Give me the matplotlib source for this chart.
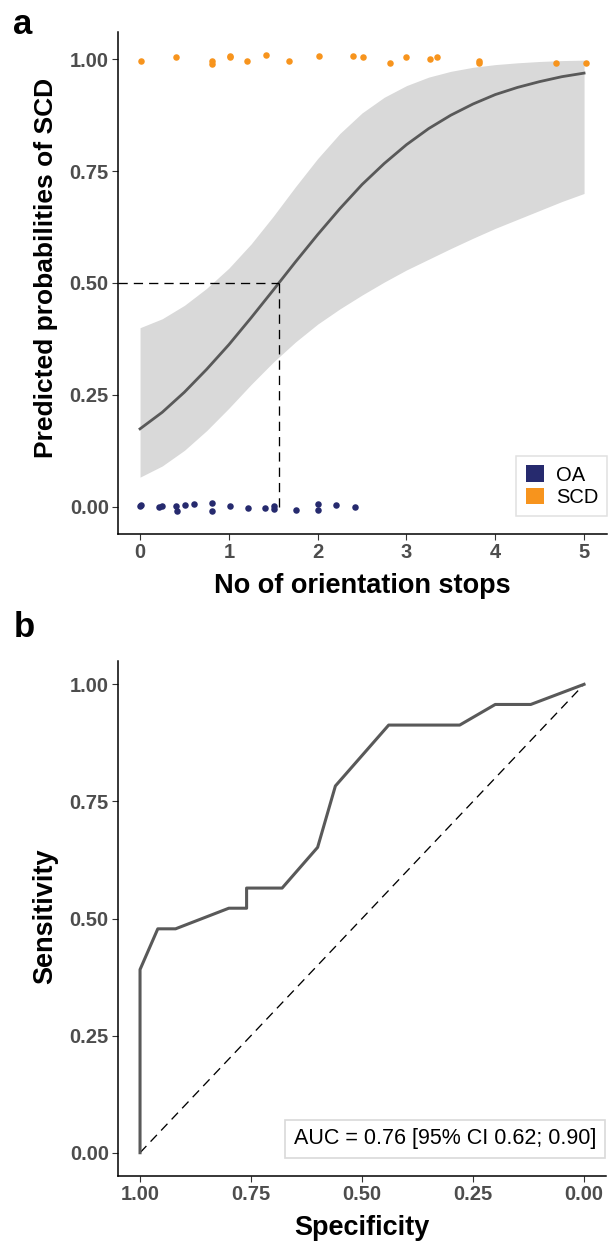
import matplotlib
matplotlib.use('Agg')
import matplotlib.pyplot as plt
from matplotlib.patches import Patch

plt.rcParams['font.family'] = ['Liberation Sans', 'DejaVu Sans']

# ---- 数据：a 图 logistic 拟合曲线与 95% 置信带----
stops_grid = [0.0, 0.25, 0.5, 0.75, 1.0, 1.25, 1.5, 1.75, 2.0, 2.25, 2.5,
              2.75, 3.0, 3.25, 3.5, 3.75, 4.0, 4.25, 4.5, 4.75, 5.0]
fit_prob = [0.174, 0.211, 0.256, 0.307, 0.362, 0.422, 0.484, 0.547, 0.608, 0.666, 0.720,
            0.767, 0.809, 0.845, 0.875, 0.900, 0.921, 0.937, 0.950, 0.961, 0.969]
ci_low = [0.066, 0.091, 0.126, 0.170, 0.220, 0.273, 0.323, 0.368, 0.408, 0.442, 0.473,
          0.502, 0.529, 0.553, 0.577, 0.600, 0.622, 0.642, 0.662, 0.682, 0.700]
ci_high = [0.400, 0.420, 0.450, 0.488, 0.533, 0.587, 0.649, 0.715, 0.778, 0.834, 0.880,
           0.915, 0.941, 0.960, 0.973, 0.982, 0.988, 0.992, 0.995, 0.997, 0.998]
cut_x = 1.56  # 概率 0.5 对应的停顿次数

# 观测点（带抖动）
oa_x = [0.0, 0.01, 0.217, 0.248, 0.405, 0.413, 0.503, 0.612, 0.81, 0.81,
        1.01, 1.22, 1.404, 1.51, 1.51, 1.753, 2.008, 2.008, 2.21, 2.418]
oa_y = [0.001, 0.004, 0.000, 0.001, 0.001, -0.010, 0.004, 0.007, 0.008, -0.009,
        0.001, -0.004, -0.003, 0.001, -0.006, -0.007, 0.007, -0.008, 0.003, 0.000]
scd_x = [0.01, 0.40, 0.81, 0.81, 1.01, 1.01, 1.205, 1.42, 1.68, 2.01,
         2.40, 2.515, 2.815, 3.00, 3.26, 3.34, 3.82, 3.82, 4.68, 5.02]
scd_y = [0.996, 1.006, 0.996, 0.990, 1.008, 1.004, 0.996, 1.010, 0.997, 1.007,
         1.007, 1.004, 0.991, 1.006, 1.000, 1.004, 0.997, 0.991, 0.992, 0.992]

# ---- 数据：b 图 ROC 曲线 ----
specificity = [1.00, 1.00, 0.96, 0.92, 0.80, 0.76, 0.76, 0.68, 0.60, 0.56, 0.44, 0.28, 0.20, 0.12, 0.00]
sensitivity = [0.000, 0.391, 0.478, 0.478, 0.522, 0.522, 0.565, 0.565, 0.652, 0.783, 0.913, 0.913, 0.957, 0.957, 1.000]
auc_text = 'AUC = 0.76 [95% CI 0.62; 0.90]'

a_xticks = [0, 1, 2, 3, 4, 5]
prob_ticks = [0.0, 0.25, 0.5, 0.75, 1.0]
prob_labels = ['0.00', '0.25', '0.50', '0.75', '1.00']
spec_ticks = [1.0, 0.75, 0.5, 0.25, 0.0]
spec_labels = ['1.00', '0.75', '0.50', '0.25', '0.00']

NAVY = '#262A6E'
ORANGE = '#F7941D'
LINE_GREY = '#595959'
BAND_GREY = '#D9D9D9'
DASH = (0, (7, 4.6))


def style_axes(ax):
    """类似 ggplot theme_classic 的坐标轴样式"""
    for side in ['top', 'right']:
        ax.spines[side].set_visible(False)
    for side in ['left', 'bottom']:
        ax.spines[side].set_linewidth(1.1)
        ax.spines[side].set_color('black')
    ax.tick_params(length=4, width=0.8, color='#333333', labelsize=14.5,
                   labelcolor='#4D4D4D', pad=2.5)


fig = plt.figure(figsize=(6.08, 12.43), dpi=100)

# ---- a: 预测概率 ----
ax = fig.add_axes([0.1938, 0.5704, 0.8048, 0.4039])
ax.fill_between(stops_grid, ci_low, ci_high, color=BAND_GREY, lw=0)
ax.plot(stops_grid, fit_prob, color=LINE_GREY, lw=2.0)
ax.plot([-0.25, cut_x], [0.5, 0.5], color='black', lw=0.95, ls=DASH)
ax.plot([cut_x, cut_x], [0.0, 0.5], color='black', lw=0.95, ls=DASH)
ax.scatter(oa_x, oa_y, s=22, color=NAVY, linewidths=0, zorder=3)
ax.scatter(scd_x, scd_y, s=22, color=ORANGE, linewidths=0, zorder=3)
ax.set_xlim(-0.25, 5.26)
ax.set_ylim(-0.061, 1.061)
style_axes(ax)
ax.set_xticks(a_xticks, [str(t) for t in a_xticks], fontweight='bold')
ax.set_yticks(prob_ticks, prob_labels, fontweight='bold')
ax.set_xlabel('No of orientation stops', fontsize=19.5, fontweight='bold')
ax.set_ylabel('Predicted probabilities of SCD', fontsize=19, fontweight='bold')
ax.xaxis.set_label_coords(0.5, -0.078)
ax.yaxis.set_label_coords(-0.122, 0.53)

handles = [Patch(facecolor=NAVY, label='OA'), Patch(facecolor=ORANGE, label='SCD')]
leg = ax.legend(handles=handles, loc='lower right', bbox_to_anchor=(1.0, 0.036),
                borderaxespad=0, frameon=True, fancybox=False, edgecolor=BAND_GREY,
                fontsize=14.5, handlelength=0.9, handleheight=0.9, handletextpad=0.6,
                labelspacing=0.15, borderpad=0.45)
leg.get_frame().set_linewidth(1.1)

# ---- b: ROC 曲线 ----
bx = fig.add_axes([0.1938, 0.0538, 0.8033, 0.4145])
bx.plot([1, 0], [0, 1], color='black', lw=0.95, ls=DASH)
bx.plot(specificity, sensitivity, color=LINE_GREY, lw=2.2)
bx.set_xlim(1.05, -0.05)
bx.set_ylim(-0.05, 1.05)
style_axes(bx)
bx.set_xticks(spec_ticks, spec_labels, fontweight='bold')
bx.set_yticks(prob_ticks, prob_labels, fontweight='bold')
bx.set_xlabel('Specificity', fontsize=19.5, fontweight='bold')
bx.set_ylabel('Sensitivity', fontsize=19.5, fontweight='bold')
bx.xaxis.set_label_coords(0.5, -0.0755)
bx.yaxis.set_label_coords(-0.122, 0.504)
bx.text(-0.028, 0.0297, auc_text, ha='right', va='center', fontsize=15.5,
        bbox=dict(boxstyle='square,pad=0.4', fc='white', ec=BAND_GREY, lw=1.2))

# 面板字母
fig.text(13 / 608, 1 - 34.3 / 1243, 'a', fontsize=25, fontweight='bold', va='baseline')
fig.text(14 / 608, 1 - 636.7 / 1243, 'b', fontsize=25, fontweight='bold', va='baseline')

fig.savefig('out.png', dpi=100)
